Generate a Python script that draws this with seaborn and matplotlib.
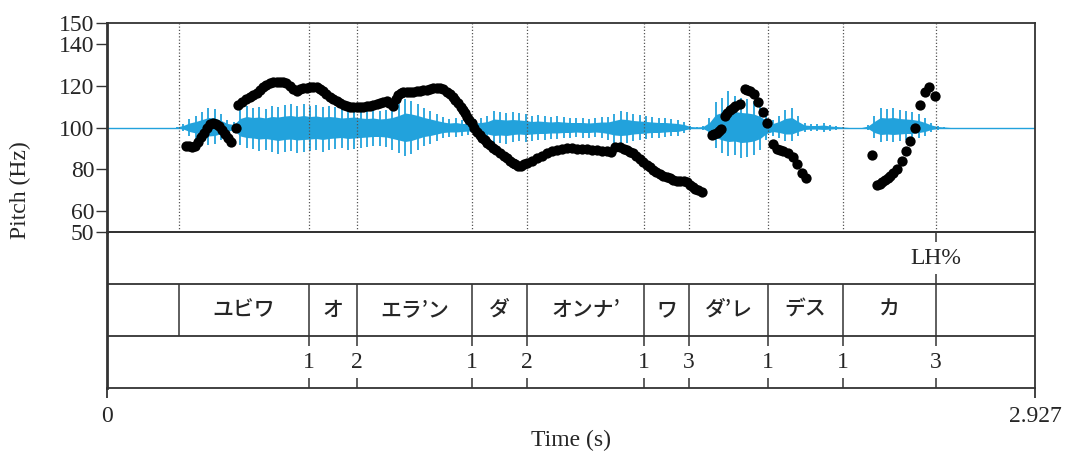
import seaborn as sns, matplotlib.pyplot as plt

sns.set_style('ticks')
plt.rcParams['font.family'] = ['Liberation Serif', 'DejaVu Serif']
jp = ['Noto Sans CJK JP', 'DejaVu Sans']

duration = 2.927

# pitch track (s, Hz)
pitch_t = [0.249, 0.258, 0.268, 0.278, 0.287, 0.296, 0.305, 0.315, 0.324, 0.334, 0.344, 0.353,
           0.363, 0.372, 0.381, 0.391, 0.407,
           0.414, 0.425, 0.437, 0.451, 0.462, 0.472, 0.483, 0.493, 0.503, 0.514, 0.525, 0.536,
           0.546, 0.556, 0.566, 0.577, 0.588, 0.598, 0.609, 0.619, 0.630, 0.640, 0.651, 0.661,
           0.672, 0.682, 0.692, 0.703, 0.714, 0.724, 0.735, 0.746, 0.756, 0.766, 0.777, 0.788,
           0.798, 0.808, 0.819, 0.830, 0.840, 0.851, 0.862, 0.872, 0.882, 0.891, 0.901, 0.910,
           0.919, 0.927, 0.935, 0.946, 0.956, 0.966, 0.977, 0.987, 0.998, 1.008, 1.019, 1.029,
           1.040, 1.050, 1.061, 1.072, 1.082, 1.091, 1.099, 1.107, 1.115, 1.123, 1.129, 1.135,
           1.143, 1.151, 1.159, 1.167, 1.175, 1.183, 1.191, 1.199, 1.208, 1.217, 1.228, 1.240,
           1.251, 1.262, 1.271, 1.281, 1.288, 1.296, 1.306, 1.316, 1.325, 1.340, 1.356, 1.372,
           1.388, 1.403, 1.419, 1.435, 1.451, 1.466, 1.482, 1.498, 1.514, 1.530, 1.546, 1.562,
           1.577, 1.590, 1.602, 1.618, 1.630, 1.640, 1.650, 1.659, 1.670, 1.681, 1.692, 1.703,
           1.712, 1.722, 1.733, 1.744, 1.755, 1.766, 1.776, 1.785, 1.797, 1.808, 1.819, 1.829,
           1.839, 1.848, 1.856, 1.864, 1.877,
           1.908, 1.916, 1.924, 1.931, 1.937, 1.949, 1.957, 1.965, 1.973, 1.981, 1.997, 2.012,
           2.020, 2.028, 2.041, 2.053, 2.069, 2.082, 2.101, 2.113, 2.122, 2.132, 2.148, 2.164,
           2.176, 2.192, 2.205,
           2.413, 2.429, 2.437, 2.444, 2.454, 2.463, 2.471, 2.479, 2.492, 2.508, 2.520, 2.533,
           2.549, 2.564, 2.580, 2.593, 2.612]
pitch_hz = [91.1, 91.0, 90.9, 91.3, 93.0, 95.3, 97.5, 99.8, 101.6, 102.3, 101.9, 100.6,
            98.8, 96.8, 94.8, 93.1, 99.8,
            110.7, 112.0, 113.4, 114.7, 115.6, 116.6, 118.0, 119.2, 120.5, 121.3, 121.7, 121.8,
            121.7, 121.9, 121.2, 119.8, 118.4, 117.6, 118.3, 118.7, 119.0, 119.2, 119.3, 119.2,
            118.6, 117.6, 116.1, 114.7, 113.6, 112.6, 111.7, 111.0, 110.3, 109.9, 109.7, 109.6,
            109.8, 109.9, 110.1, 110.4, 110.8, 111.2, 111.8, 112.3, 112.5, 111.8, 110.2, 113.5,
            115.5, 116.4, 116.9, 117.0, 117.1, 117.2, 117.4, 117.6, 117.8, 118.0, 118.2, 118.7,
            119.0, 118.9, 118.2, 117.0, 116.0, 114.6, 113.2, 111.7, 110.0, 108.4, 106.7, 105.0,
            103.6, 102.2, 100.0, 97.8, 96.4, 95.0, 93.8, 92.6, 91.4, 90.2, 89.0, 87.8,
            86.6, 85.4, 84.2, 83.0, 82.3, 81.6, 81.8, 82.3, 83.0, 84.2, 85.4, 86.6,
            87.8, 88.6, 89.2, 89.7, 90.2, 90.0, 89.9, 89.8, 89.7, 89.4, 89.2, 88.9,
            88.7, 88.3, 90.7, 90.5, 89.8, 89.2, 88.5, 87.8, 86.4, 85.0, 83.5, 82.1,
            80.9, 79.7, 78.7, 77.8, 77.0, 76.3, 75.6, 74.9, 74.6, 74.4, 74.2, 73.9,
            72.7, 71.5, 70.8, 70.0, 69.3,
            96.4, 96.9, 97.4, 98.3, 99.3, 105.5, 107.0, 108.4, 109.4, 110.3, 111.2, 118.4,
            118.1, 117.5, 116.0, 112.2, 107.4, 102.2, 92.1, 89.7, 89.2, 88.8, 87.8, 85.9,
            82.5, 78.2, 75.8,
            86.8, 72.5, 73.2, 74.0, 74.8, 75.8, 77.0, 78.2, 80.1, 84.0, 88.8, 93.5,
            99.8, 110.8, 117.0, 119.4, 115.0]

# waveform envelope (arbitrary units), sampled every 20 ms
wave_t = [0.22, 0.24, 0.26, 0.28, 0.30, 0.32, 0.34, 0.36, 0.38, 0.40, 0.42, 0.44, 0.46, 0.48,
          0.50, 0.52, 0.54, 0.56, 0.58, 0.60, 0.62, 0.64, 0.66, 0.68, 0.70, 0.72, 0.74, 0.76,
          0.78, 0.80, 0.82, 0.84, 0.86, 0.88, 0.90, 0.92, 0.94, 0.96, 0.98, 1.00, 1.02, 1.04,
          1.06, 1.08, 1.10, 1.12, 1.14, 1.16, 1.18, 1.20, 1.22, 1.24, 1.26, 1.28, 1.30, 1.32,
          1.34, 1.36, 1.38, 1.40, 1.42, 1.44, 1.46, 1.48, 1.50, 1.52, 1.54, 1.56, 1.58, 1.60,
          1.62, 1.64, 1.66, 1.68, 1.70, 1.72, 1.74, 1.76, 1.78, 1.80, 1.82, 1.84, 1.86, 1.88,
          1.90, 1.92, 1.94, 1.96, 1.98, 2.00, 2.02, 2.04, 2.06, 2.08, 2.10, 2.12, 2.14, 2.16,
          2.18, 2.20, 2.22, 2.24, 2.26, 2.28, 2.30, 2.32, 2.34, 2.36, 2.38, 2.40, 2.42, 2.44,
          2.46, 2.48, 2.50, 2.52, 2.54, 2.56, 2.58, 2.60, 2.62, 2.64, 2.66]
wave_up = [1, 4, 9, 12, 16, 20, 19, 14, 8, 6, 18, 22, 20, 21,
           19, 22, 21, 23, 24, 22, 24, 22, 23, 21, 22, 21, 19, 20,
           21, 19, 18, 19, 17, 18, 20, 24, 29, 27, 24, 20, 17, 14,
           11, 9, 10, 8, 8, 9, 10, 12, 17, 16, 15, 16, 15, 14,
           12, 13, 12, 11, 12, 11, 10, 10, 10, 9, 10, 11, 11, 14,
           17, 16, 14, 13, 12, 11, 10, 10, 9, 8, 6, 2, 1, 2,
           10, 26, 30, 37, 32, 30, 29, 27, 22, 14, 8, 12, 18, 20,
           12, 5, 4, 4, 5, 3, 2, 1, 0, 0, 0, 3, 12, 20,
           19, 20, 18, 17, 16, 14, 10, 5, 2, 1, 0]
wave_dn = [1, 3, 8, 11, 14, 17, 16, 12, 7, 5, 17, 20, 21, 23,
           22, 24, 26, 24, 23, 25, 24, 23, 22, 24, 22, 21, 20, 22,
           21, 20, 19, 18, 18, 19, 22, 25, 28, 26, 22, 18, 16, 13,
           10, 9, 9, 8, 7, 8, 10, 13, 16, 15, 16, 14, 13, 14,
           13, 12, 12, 11, 11, 10, 10, 9, 10, 10, 9, 10, 12, 15,
           16, 15, 13, 12, 11, 10, 10, 9, 8, 8, 5, 2, 1, 2,
           9, 20, 25, 28, 27, 30, 29, 27, 22, 12, 8, 10, 13, 13,
           8, 4, 3, 3, 4, 3, 2, 1, 0, 0, 0, 2, 10, 14,
           13, 14, 13, 12, 12, 10, 8, 4, 2, 1, 0]

# TextGrid
bounds = [0.227, 0.637, 0.789, 1.151, 1.325, 1.694, 1.836, 2.085, 2.321, 2.615]
words = ['ユビワ', 'オ', 'エラ’ン', 'ダ', 'オンナ’', 'ワ', 'ダ’レ', 'デス', 'カ']
tone_t = [0.637, 0.789, 1.151, 1.325, 1.694, 1.836, 2.085, 2.321, 2.615]
tone_lab = ['1', '2', '1', '2', '1', '3', '1', '1', '3']
bnd_t = [2.615]
bnd_lab = ['LH%']

blue = '#22a2dc'
edge = '#333333'

fig = plt.figure(figsize=(10.65, 4.51), dpi=100)
L, W = 107 / 1065, 928 / 1065
ax = fig.add_axes([L, 1 - 232 / 451, W, 209 / 451])
axw = ax.twinx()
ax.set_zorder(axw.get_zorder() + 1)
ax.patch.set_visible(False)
tg = fig.add_axes([L, 1 - 388 / 451, W, 156 / 451])

# waveform behind the pitch
axw.set_ylim(-104.5, 104.5)
axw.axhline(0, color=blue, lw=1)
axw.fill_between(wave_t, [-0.5 * v for v in wave_dn], [0.5 * v for v in wave_up],
                 color=blue, lw=0)
axw.vlines(wave_t, [-v for v in wave_dn], wave_up, color=blue, lw=1.3)
axw.axis('off')

# pitch
sns.scatterplot(x=pitch_t, y=pitch_hz, ax=ax, color='black', s=55, linewidth=0, zorder=5)
ax.vlines(bounds, 50, 150, color='#555555', lw=0.9, linestyles=(0, (1, 1.6)), zorder=1)
ax.set_xlim(0, duration)
ax.set_ylim(50, 150)
ax.set_yticks([50, 60, 80, 100, 120, 140, 150])
ax.set_xticks([])
ax.tick_params(axis='y', direction='out', length=8, width=1, color=edge,
               labelsize=17, pad=1)
for s in ax.spines.values():
    s.set_color(edge)
    s.set_linewidth(1.3)
ax.spines['left'].set_linewidth(2)

# tiers
tg.set_xlim(0, duration)
tg.set_ylim(0, 3)
tg.hlines([1, 2], 0, duration, color=edge, lw=1.3)
tg.vlines(bounds, 1, 2, color=edge, lw=1.1)
for i, w in enumerate(words):
    tg.text((bounds[i] + bounds[i + 1]) / 2, 1.5, w, ha='center', va='center',
            fontsize=15, family=jp, fontweight='medium')
tg.vlines(tone_t, 0, 0.2, color=edge, lw=1.1)
tg.vlines(tone_t, 0.8, 1, color=edge, lw=1.1)
for t, lab in zip(tone_t, tone_lab):
    tg.text(t, 0.5, lab, ha='center', va='center', fontsize=17)
tg.vlines(bnd_t, 2, 2.2, color=edge, lw=1.1)
tg.vlines(bnd_t, 2.8, 3, color=edge, lw=1.1)
for t, lab in zip(bnd_t, bnd_lab):
    tg.text(t, 2.5, lab, ha='center', va='center', fontsize=17)
tg.set_yticks([])
tg.set_xticks([0, duration])
tg.set_xticklabels(['0', '2.927'])
tg.tick_params(axis='x', direction='out', length=7, width=1.3, color=edge,
               labelsize=17, pad=6)
for s in tg.spines.values():
    s.set_color(edge)
    s.set_linewidth(1.3)
tg.spines['left'].set_linewidth(2)

fig.text(571 / 1065, 1 - 440 / 451, 'Time (s)', ha='center', va='center', fontsize=17)
fig.text(20 / 1065, 1 - 190 / 451, 'Pitch (Hz)', ha='center', va='center',
         rotation=90, fontsize=17)

fig.savefig('out.png', dpi=100)
